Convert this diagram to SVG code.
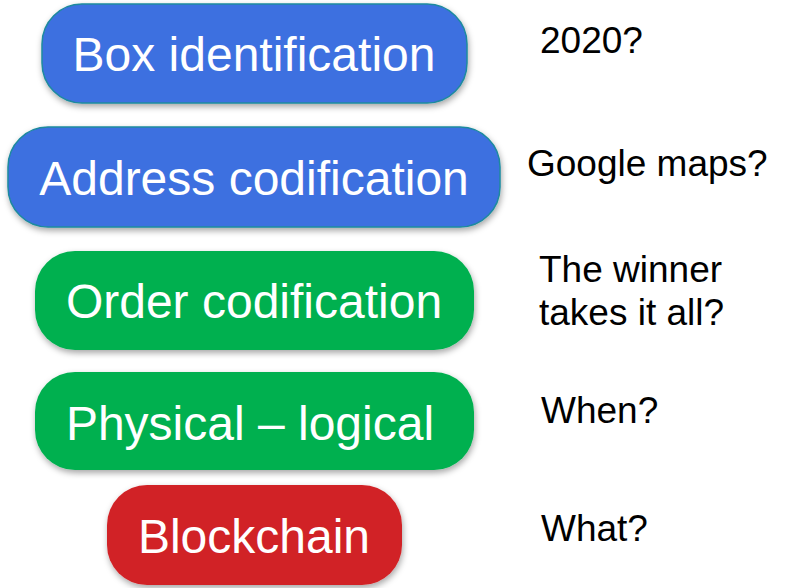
<svg xmlns="http://www.w3.org/2000/svg" width="786" height="588" viewBox="0 0 786 588">
<defs>
<filter id="sh" x="-10%" y="-20%" width="120%" height="150%">
<feDropShadow dx="1" dy="3" stdDeviation="3" flood-color="#000" flood-opacity="0.35"/>
</filter>
<style>
.box{filter:url(#sh);}
.blue{fill:#3d6fe0;stroke:#1e8a9e;stroke-width:1.5;}
.green{fill:#00b050;}
.red{fill:#d12326;}
.lbl{font-family:"Liberation Sans",Arial,sans-serif;font-size:48px;fill:#fff;text-anchor:middle;}
.note{font-family:"Liberation Sans",Arial,sans-serif;font-size:37px;fill:#000;}
</style>
</defs>
<rect width="786" height="588" fill="#fff"/>
<g id="node-box">
<rect class="box blue" x="42" y="4" width="425" height="99" rx="40"/>
<text class="lbl" x="254" y="71">Box identification</text>
</g>
<g id="node-address">
<rect class="box blue" x="8" y="127" width="492" height="100" rx="40"/>
<text class="lbl" x="254" y="195">Address codification</text>
</g>
<g id="node-order">
<rect class="box green" x="35" y="251" width="439" height="99" rx="40"/>
<text class="lbl" x="254" y="318">Order codification</text>
</g>
<g id="node-physical">
<rect class="box green" x="35" y="372" width="439" height="98" rx="40"/>
<text class="lbl" x="250" y="440">Physical – logical</text>
</g>
<g id="node-blockchain">
<rect class="box red" x="107" y="485" width="295" height="100" rx="40"/>
<text class="lbl" x="254" y="553">Blockchain</text>
</g>
<g id="notes">
<text class="note" x="540" y="53">2020?</text>
<text class="note" x="527" y="176">Google maps?</text>
<text class="note" x="539" y="282">The winner</text>
<text class="note" x="539" y="325">takes it all?</text>
<text class="note" x="541" y="423">When?</text>
<text class="note" x="541" y="541">What?</text>
</g>
<g id="connectors"></g>
</svg>
